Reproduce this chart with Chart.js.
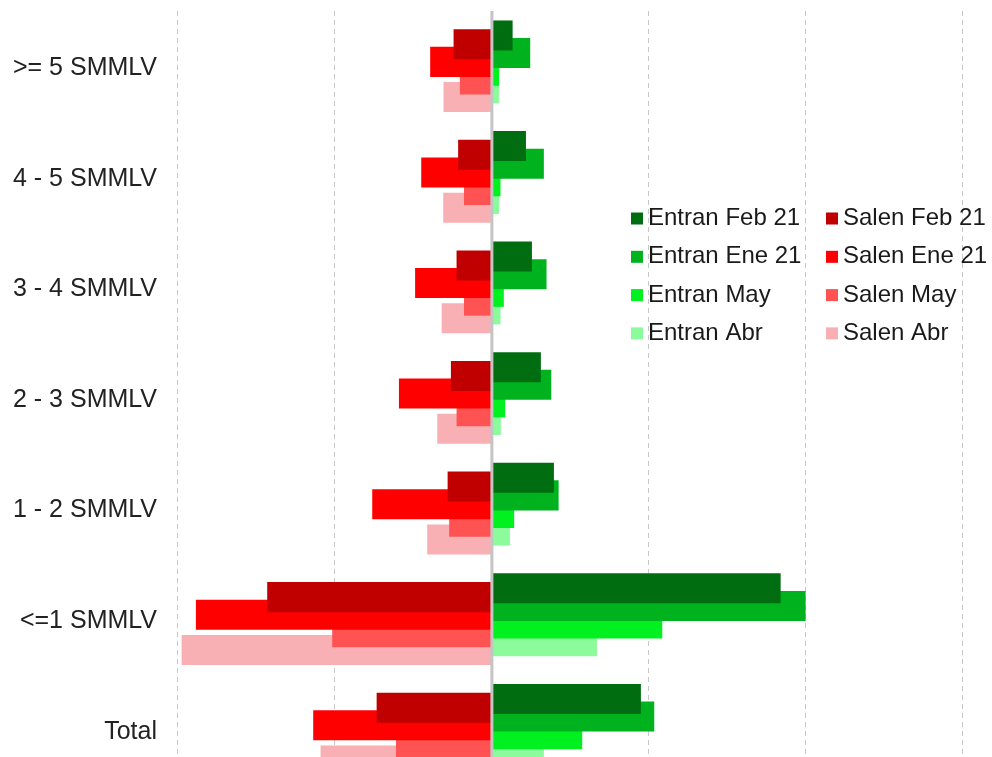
<!DOCTYPE html>
<html lang="es">
<head>
<meta charset="utf-8">
<title>Entran y salen por rango salarial</title>
<script src="https://cdn.jsdelivr.net/npm/chart.js@4.4.1/dist/chart.umd.min.js"></script>
<style>
  html, body { margin: 0; padding: 0; background: #fff; overflow: hidden; width: 992px; height: 757px; }
  #barChart { display: block; }
</style>
</head>
<body>
<canvas id="barChart" width="992" height="785"></canvas>
<script>
// Datos
var categories = ['>= 5 SMMLV', '4 - 5 SMMLV', '3 - 4 SMMLV', '2 - 3 SMMLV', '1 - 2 SMMLV', '<=1 SMMLV', 'Total'];

var entranFeb21 = [13.2, 21.7, 25.5, 31.2, 39.5, 183.9, 94.9];
var entranEne21 = [24.4, 33.1, 34.8, 37.8, 42.5, 199.8, 103.4];
var entranMay   = [4.6, 5.5, 7.6, 8.5, 14.2, 108.5, 57.5];
var entranAbr   = [4.5, 4.6, 5.5, 5.7, 11.5, 66.9, 33.1];

var salenFeb21 = [-24.4, -21.5, -22.5, -26.1, -28.2, -143.1, -73.4];
var salenEne21 = [-39.3, -45.0, -48.9, -59.2, -76.2, -188.5, -113.8];
var salenMay   = [-20.4, -17.8, -17.8, -22.5, -27.2, -101.7, -61.1];
var salenAbr   = [-30.8, -31.0, -32.0, -34.8, -41.2, -197.6, -109.1];

var xMin = -205;
var xMax = 318.5;
var fontFamily = "'Liberation Sans', Arial, sans-serif";

// leyenda en dos columnas, dibujada sobre el area del grafico
var legendGrid = {
    id: 'legendGrid',
    afterDraw: function (chart, args, opts) {
        var ctx = chart.ctx;
        ctx.save();
        ctx.font = opts.fontSize + 'px ' + fontFamily;
        ctx.textBaseline = 'middle';
        ctx.textAlign = 'left';
        chart.data.datasets.forEach(function (ds, i) {
            var col = i % 2;
            var row = Math.floor(i / 2);
            var x = opts.left + col * opts.colWidth;
            var y = opts.top + row * opts.rowHeight;
            ctx.fillStyle = ds.backgroundColor;
            ctx.fillRect(x, y - opts.box / 2, opts.box, opts.box);
            ctx.fillStyle = opts.color;
            ctx.fillText(ds.label, x + opts.box + 5, y);
        });
        ctx.restore();
    }
};

// linea del cero encima de las barras
var zeroLine = {
    id: 'zeroLine',
    afterDatasetsDraw: function (chart) {
        var ctx = chart.ctx;
        var x = chart.scales.x.getPixelForValue(0);
        ctx.save();
        ctx.strokeStyle = '#c4c4c4';
        ctx.lineWidth = 3;
        ctx.beginPath();
        ctx.moveTo(x, chart.chartArea.top);
        ctx.lineTo(x, chart.chartArea.bottom);
        ctx.stroke();
        ctx.restore();
    }
};

var ctx = document.getElementById('barChart').getContext('2d');
var barChart = new Chart(ctx, {
    type: 'bar',
    data: {
        labels: categories,
        datasets: [
            { label: 'Entran Feb 21', data: entranFeb21, backgroundColor: '#006e10' },
            { label: 'Salen Feb 21', data: salenFeb21, backgroundColor: '#c00000' },
            { label: 'Entran Ene 21', data: entranEne21, backgroundColor: '#00b21e' },
            { label: 'Salen Ene 21', data: salenEne21, backgroundColor: '#ff0000' },
            { label: 'Entran May', data: entranMay, backgroundColor: '#00f020' },
            { label: 'Salen May', data: salenMay, backgroundColor: '#ff5252' },
            { label: 'Entran Abr', data: entranAbr, backgroundColor: '#8cfb9c' },
            { label: 'Salen Abr', data: salenAbr, backgroundColor: '#f9b0b4' }
        ]
    },
    options: {
        indexAxis: 'y',
        responsive: false,
        animation: false,
        layout: { padding: { top: 11, right: 0, bottom: 0, left: 0 } },
        datasets: {
            bar: { categoryPercentage: 0.637, barPercentage: 3.41, borderWidth: 0 }
        },
        plugins: {
            legend: { display: false },
            tooltip: { enabled: false },
            legendGrid: { left: 631, top: 218.5, colWidth: 195, rowHeight: 38.3, box: 12, fontSize: 24, color: '#1a1a1a' }
        },
        scales: {
            x: {
                min: xMin,
                max: xMax,
                ticks: { display: false, stepSize: 100, includeBounds: false },
                grid: {
                    drawTicks: false,
                    lineWidth: 1,
                    color: function (c) { return c.tick && c.tick.value === 0 ? 'rgba(0,0,0,0)' : '#c8c8c8'; }
                },
                border: { display: false, dash: [5, 4] },
                afterFit: function (scale) { scale.height = 0; scale.paddingLeft = 0; scale.paddingRight = 0; }
            },
            y: {
                grid: { display: false, drawTicks: false },
                border: { display: false },
                ticks: { color: '#222222', padding: 13, labelOffset: 2, font: { family: fontFamily, size: 25 } },
                afterFit: function (scale) {
                    scale.width = 170;
                    scale.paddingTop = 0;
                    scale.paddingBottom = 0;
                }
            }
        }
    },
    plugins: [zeroLine, legendGrid]
});
</script>
</body>
</html>
